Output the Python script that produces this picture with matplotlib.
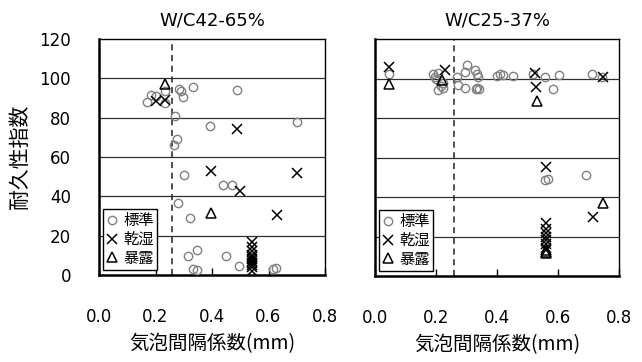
import matplotlib
matplotlib.use("Agg")
import matplotlib.pyplot as plt

plt.rcParams['font.family'] = ['Noto Sans CJK JP', 'DejaVu Sans']

# W/C 42-65% series
l_std_x = [0.171, 0.184, 0.200, 0.234, 0.234, 0.284, 0.289, 0.296, 0.332, 0.487,
           0.269, 0.700, 0.393, 0.277, 0.267, 0.301, 0.440, 0.470, 0.281, 0.322,
           0.346, 0.314, 0.450, 0.497, 0.334, 0.348, 0.615, 0.627]
l_std_y = [88.1, 91.5, 91.0, 93.5, 87.6, 94.6, 93.5, 90.7, 95.4, 94.1,
           81.0, 77.6, 75.7, 69.0, 66.1, 50.7, 45.8, 45.8, 36.4, 28.8,
           12.7, 9.8, 9.8, 4.6, 2.9, 2.5, 2.9, 3.4]
l_wd_x = [0.202, 0.234, 0.487, 0.395, 0.702, 0.500, 0.629,
          0.543, 0.543, 0.543, 0.543, 0.543, 0.543, 0.543, 0.543, 0.543, 0.543, 0.543]
l_wd_y = [88.5, 89.0, 74.1, 52.9, 52.0, 42.9, 30.5,
          17.0, 14.0, 12.0, 10.0, 9.0, 8.0, 7.0, 6.0, 5.0, 4.0, 2.0]
l_exp_x = [0.234, 0.395]
l_exp_y = [97.1, 31.7]

# W/C 25-37% series
r_std_x = [0.047, 0.190, 0.197, 0.205, 0.200, 0.208, 0.224, 0.268, 0.300, 0.295,
           0.328, 0.333, 0.339, 0.273, 0.295, 0.330, 0.335, 0.340, 0.400, 0.410,
           0.420, 0.453, 0.519, 0.557, 0.604, 0.583, 0.710, 0.743, 0.559, 0.568,
           0.692, 0.215, 0.222]
r_std_y = [102.3, 102.5, 101.0, 102.8, 100.0, 94.0, 95.0, 100.9, 106.8, 103.4,
           104.3, 102.3, 100.9, 96.7, 95.0, 94.5, 95.0, 94.8, 101.5, 102.3,
           101.6, 101.3, 102.3, 100.6, 101.6, 94.5, 102.3, 100.9, 48.6, 49.0,
           51.1, 96.0, 97.5]
r_wd_x = [0.047, 0.230, 0.525, 0.528, 0.749, 0.561, 0.714,
          0.561, 0.561, 0.561, 0.561, 0.561, 0.561, 0.561, 0.561]
r_wd_y = [105.7, 104.5, 102.6, 95.5, 100.9, 55.3, 30.0,
          27.0, 24.0, 22.0, 20.0, 18.0, 16.0, 14.0, 13.0]
r_exp_x = [0.047, 0.219, 0.530, 0.749, 0.561, 0.561, 0.561]
r_exp_y = [97.1, 99.2, 88.8, 36.8, 12.3, 11.5, 13.0]

titles = ["W/C42-65%", "W/C25-37%"]
xlabel = "気泡間隔係数(mm)"
ylabel = "耐久性指数"
labels = ["標準", "乾湿", "暴露"]
xticks = [0.0, 0.2, 0.4, 0.6, 0.8]
yticks = [0, 20, 40, 60, 80, 100, 120]
limit_line = 0.26

num_font = dict(family='DejaVu Sans', size=12)

fig = plt.figure(figsize=(6.42, 3.62), dpi=100)
ax_l = fig.add_axes([99 / 642, 1 - 275 / 362, 226 / 642, 236 / 362])
ax_r = fig.add_axes([375 / 642, 1 - 276 / 362, 244 / 642, 237 / 362])

panels = [
    (ax_l, l_std_x, l_std_y, l_wd_x, l_wd_y, l_exp_x, l_exp_y),
    (ax_r, r_std_x, r_std_y, r_wd_x, r_wd_y, r_exp_x, r_exp_y),
]

for i, (ax, sx, sy, wx, wy, ex, ey) in enumerate(panels):
    ax.set_xlim(0, 0.8)
    ax.set_ylim(0, 120)
    for yv in yticks[1:-1]:
        ax.axhline(yv, color='#303030', lw=0.9, zorder=1)
    ax.axvline(limit_line, color='#222222', lw=1.1, ls=(0, (4, 3)), zorder=1)
    h1, = ax.plot(sx, sy, 'o', ms=6, mfc='none', mec='#808080', mew=1.0,
                  ls='none', zorder=3, label=labels[0])
    h2, = ax.plot(wx, wy, 'x', ms=7.5, color='black', mew=1.1,
                  ls='none', zorder=4, label=labels[1])
    h3, = ax.plot(ex, ey, '^', ms=7, mfc='none', mec='black', mew=1.1,
                  ls='none', zorder=4, label=labels[2])
    ax.set_xticks(xticks)
    ax.set_xticklabels([f"{t:.1f}" for t in xticks], fontdict=num_font)
    ax.tick_params(axis='x', direction='in', length=5, pad=24, width=1)
    ax.set_yticks(yticks)
    if i == 0:
        ax.set_yticklabels([str(t) for t in yticks], fontdict=num_font)
        ax.tick_params(axis='y', direction='in', length=0, pad=20)
        ax.set_ylabel(ylabel, fontsize=15, labelpad=6)
    else:
        ax.set_yticklabels([])
        ax.tick_params(axis='y', direction='in', length=0)
    ax.set_xlabel(xlabel, fontsize=14, labelpad=5)
    ax.set_title(titles[i], family='DejaVu Sans', fontsize=13, pad=10)
    for s in ax.spines.values():
        s.set_color('black')
        s.set_linewidth(1.0)
    ax.spines['left'].set_linewidth(1.8)
    ax.spines['bottom'].set_linewidth(1.8)
    leg = ax.legend(handles=[h1, h2, h3], loc='lower left',
                    bbox_to_anchor=(0.005, 0.01), fontsize=11,
                    frameon=True, fancybox=False, edgecolor='black',
                    framealpha=1, handlelength=0.8, handletextpad=0.3,
                    borderpad=0.2, labelspacing=0.1, borderaxespad=0.2)
    leg.get_frame().set_linewidth(1.0)

fig.savefig("out.png", dpi=100)
